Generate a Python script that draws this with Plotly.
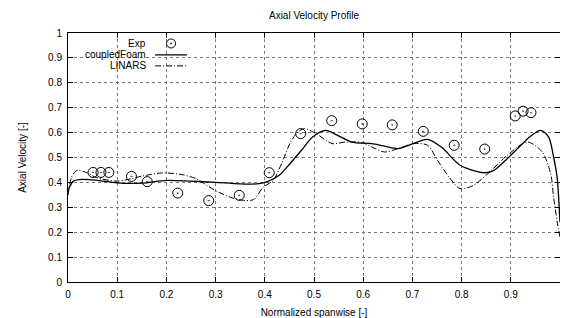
import plotly.graph_objects as go

# Experimental data
exp_x = [0.051, 0.067, 0.083, 0.129, 0.161, 0.223, 0.286, 0.348, 0.409, 0.473,
         0.536, 0.598, 0.659, 0.722, 0.785, 0.847, 0.909, 0.925, 0.941]
exp_y = [0.44, 0.44, 0.44, 0.424, 0.403, 0.357, 0.327, 0.348, 0.439, 0.596,
         0.648, 0.635, 0.631, 0.605, 0.549, 0.534, 0.667, 0.686, 0.680]

# coupledFoam profile
cf_x = [0, 0.011, 0.031, 0.06, 0.10, 0.15, 0.20, 0.25, 0.30, 0.35, 0.384, 0.404,
        0.43, 0.451, 0.475, 0.497, 0.524, 0.545, 0.577, 0.617, 0.645, 0.671, 0.70,
        0.731, 0.76, 0.797, 0.844, 0.864, 0.89, 0.917, 0.94, 0.961, 0.977, 0.987,
        0.994, 1.0]
cf_y = [0.368, 0.405, 0.412, 0.408, 0.398, 0.397, 0.408, 0.405, 0.400, 0.394, 0.394,
        0.402, 0.43, 0.475, 0.53, 0.582, 0.609, 0.592, 0.562, 0.556, 0.545, 0.536,
        0.555, 0.573, 0.54, 0.469, 0.439, 0.446, 0.49, 0.542, 0.585, 0.609, 0.582,
        0.502, 0.422, 0.24]

# LINARS profile
li_x = [0, 0.007, 0.014, 0.02, 0.037, 0.057, 0.10, 0.15, 0.19, 0.23, 0.26, 0.297,
        0.33, 0.357, 0.377, 0.397, 0.417, 0.435, 0.451, 0.466, 0.481, 0.504, 0.537,
        0.564, 0.597, 0.624, 0.644, 0.671, 0.704, 0.731, 0.751, 0.775, 0.797, 0.824,
        0.857, 0.897, 0.934, 0.964, 0.981, 0.987, 0.994, 1.0]
li_y = [0.348, 0.42, 0.442, 0.449, 0.44, 0.42, 0.405, 0.425, 0.438, 0.432, 0.415,
        0.37, 0.34, 0.328, 0.331, 0.381, 0.408, 0.48, 0.556, 0.60, 0.616, 0.596,
        0.556, 0.562, 0.56, 0.536, 0.522, 0.536, 0.556, 0.549, 0.489, 0.42, 0.375,
        0.388, 0.442, 0.516, 0.562, 0.522, 0.435, 0.341, 0.245, 0.18]

tick_vals = [0, 0.1, 0.2, 0.3, 0.4, 0.5, 0.6, 0.7, 0.8, 0.9, 1]
tick_text = ["0", "0.1", "0.2", "0.3", "0.4", "0.5", "0.6", "0.7", "0.8", "0.9", "1"]

legend_names = ["Exp", "coupledFoam", "LINARS"]

FONT = "Liberation Sans, Arial, Helvetica, sans-serif"
LIN_DASH = "6px,2px,1px,2px"

fig = go.Figure()
fig.add_trace(go.Scatter(
    x=exp_x, y=exp_y, mode="markers", name=legend_names[0],
    marker=dict(symbol="circle-open-dot", size=10, color="black",
                line=dict(width=1, color="black")),
))
fig.add_trace(go.Scatter(
    x=cf_x, y=cf_y, mode="lines", name=legend_names[1],
    line=dict(color="black", width=1.3, shape="spline", smoothing=0.8),
))
fig.add_trace(go.Scatter(
    x=li_x, y=li_y, mode="lines", name=legend_names[2],
    line=dict(color="black", width=1, shape="spline", smoothing=0.8,
              dash=LIN_DASH),
))

axis_common = dict(
    showline=True, linecolor="black", linewidth=1, mirror="all",
    ticks="inside", ticklen=5, tickcolor="black", tickwidth=1,
    showgrid=True, gridcolor="#777777", griddash="dot", gridwidth=1,
    zeroline=False, automargin=False,
    tickvals=tick_vals, ticktext=tick_text,
    tickfont=dict(family=FONT, size=10, color="black"),
)

# gnuplot-style key: text right-aligned, sample to its right
key_rows_y = [0.958, 0.912, 0.868]
key_text_x = 0.163
key_sample_x0, key_sample_x1 = 0.177, 0.242
annotations = []
shapes = []
for name, ky in zip(legend_names, key_rows_y):
    annotations.append(dict(
        x=key_text_x, y=ky, xref="paper", yref="paper", text=name,
        showarrow=False, xanchor="right", yanchor="middle",
        font=dict(family=FONT, size=10, color="black")))
cx = (key_sample_x0 + key_sample_x1) / 2
shapes.append(dict(type="circle", xref="paper", yref="paper",
                   xsizemode="pixel", ysizemode="pixel",
                   xanchor=cx, yanchor=key_rows_y[0],
                   x0=-4.5, x1=4.5, y0=-4.5, y1=4.5,
                   line=dict(color="black", width=1)))
shapes.append(dict(type="circle", xref="paper", yref="paper",
                   xsizemode="pixel", ysizemode="pixel",
                   xanchor=cx, yanchor=key_rows_y[0],
                   x0=-0.7, x1=0.7, y0=-0.7, y1=0.7,
                   fillcolor="black", line=dict(color="black", width=0.5)))
shapes.append(dict(type="line", xref="paper", yref="paper",
                   x0=key_sample_x0, x1=key_sample_x1,
                   y0=key_rows_y[1], y1=key_rows_y[1],
                   line=dict(color="black", width=1.3)))
shapes.append(dict(type="line", xref="paper", yref="paper",
                   x0=key_sample_x0, x1=key_sample_x1,
                   y0=key_rows_y[2], y1=key_rows_y[2],
                   line=dict(color="black", width=1, dash=LIN_DASH)))

fig.update_layout(
    width=552, height=310,
    template="none",
    paper_bgcolor="white", plot_bgcolor="white",
    margin=dict(l=60, r=0, t=25, b=36),
    font=dict(family=FONT, size=10, color="black"),
    title=dict(text="Axial Velocity Profile", x=0.5, xref="paper", xanchor="center",
               y=1 - 7 / 310, yref="container", yanchor="middle",
               font=dict(family=FONT, size=10, color="black")),
    xaxis=dict(range=[0, 1], ticklabelstandoff=3,
               title=dict(text="Normalized spanwise [-]", standoff=10,
                          font=dict(family=FONT, size=10)), **axis_common),
    yaxis=dict(range=[0, 1], ticklabelstandoff=3,
               title=dict(text="Axial Velocity [-]", standoff=19,
                          font=dict(family=FONT, size=10)), **axis_common),
    showlegend=False,
    annotations=annotations,
    shapes=shapes,
)

fig.write_html("out.html")
